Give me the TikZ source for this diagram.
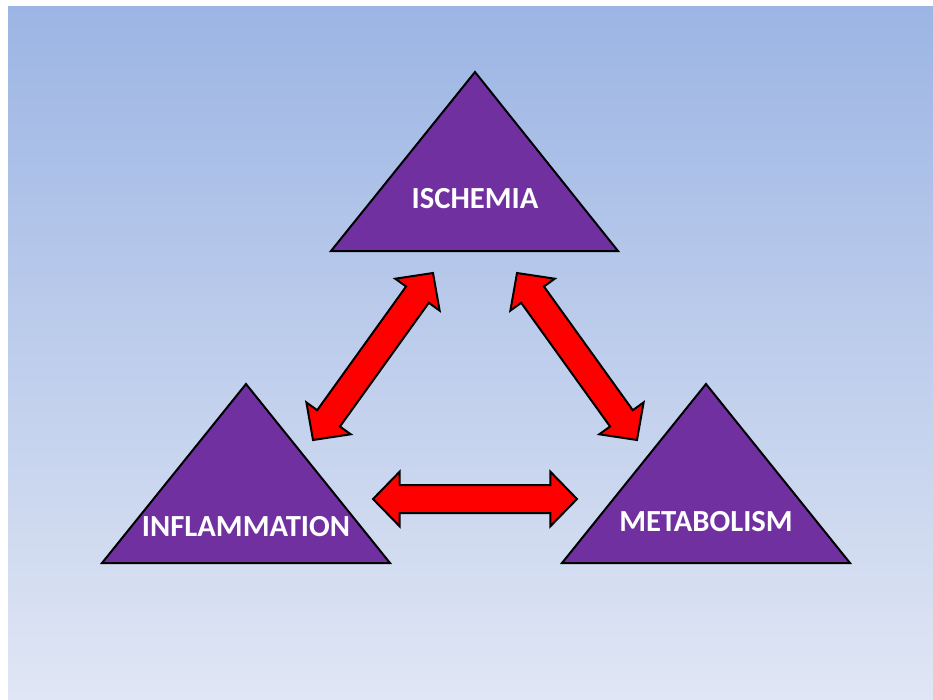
\documentclass[tikz,border=0pt]{standalone}
\usepackage{fontspec}
\setmainfont{Carlito}
\usetikzlibrary{calc}

\definecolor{tripurple}{RGB}{112,48,160}
\definecolor{bgtop}{RGB}{156,181,228}
\definecolor{bgbottom}{RGB}{224,230,244}

\tikzset{every picture/.style={line width=0.75pt}}
\tikzset{
  tri/.style={draw=black, fill=tripurple, line width=1.5, line join=miter},
  tritext/.style={text=white, font=\fontsize{23}{26}\selectfont\bfseries, inner sep=0pt},
  dblarrow/.style={draw=black, fill=red, line width=1.5, line join=miter}
}

% block double arrow between two named coordinates
\newcommand{\twowayarrow}[2]{%
  \draw [dblarrow] (#1)
    -- ($(#1)!20pt!(#2)!20.5pt!90:(#2)$)
    -- ($(#1)!20pt!(#2)!10.5pt!90:(#2)$)
    -- ($(#2)!20pt!(#1)!10.5pt!-90:(#1)$)
    -- ($(#2)!20pt!(#1)!20.5pt!-90:(#1)$)
    -- (#2)
    -- ($(#2)!20pt!(#1)!20.5pt!90:(#1)$)
    -- ($(#2)!20pt!(#1)!10.5pt!90:(#1)$)
    -- ($(#1)!20pt!(#2)!10.5pt!-90:(#2)$)
    -- ($(#1)!20pt!(#2)!20.5pt!-90:(#2)$)
    -- cycle;}

\begin{document}
\begin{tikzpicture}[x=0.75pt,y=0.75pt,yscale=-1,xscale=1]
\useasboundingbox (0,0) rectangle (933,700);

%Shape: Background
\fill [white] (0,0) rectangle (933,700);
\shade [top color=bgtop, bottom color=bgbottom] (8,6) rectangle (933,700);

%Shape: Triangle [ischemia]
\draw [tri] (475,72) -- (618,251) -- (331,251) -- cycle;
%Shape: Triangle [inflammation]
\draw [tri] (246,384) -- (390,563) -- (102,563) -- cycle;
%Shape: Triangle [metabolism]
\draw [tri] (706,384) -- (850,563) -- (562,563) -- cycle;

% Text Node
\node [tritext] (ischemia) at (475,199) {ISCHEMIA};
% Text Node
\node [tritext] (inflammation) at (246,527) {INFLAMMATION};
% Text Node
\node [tritext] (metabolism) at (706,522) {METABOLISM};

% arrow ends
\coordinate (isc_left) at (433,273);
\coordinate (isc_right) at (517,273);
\coordinate (inf_top) at (313,440);
\coordinate (inf_right) at (373,499);
\coordinate (met_top) at (637,440);
\coordinate (met_left) at (577,499);

%Double Arrows
\twowayarrow{inf_top}{isc_left}
\twowayarrow{isc_right}{met_top}
\twowayarrow{inf_right}{met_left}

\end{tikzpicture}
\end{document}
